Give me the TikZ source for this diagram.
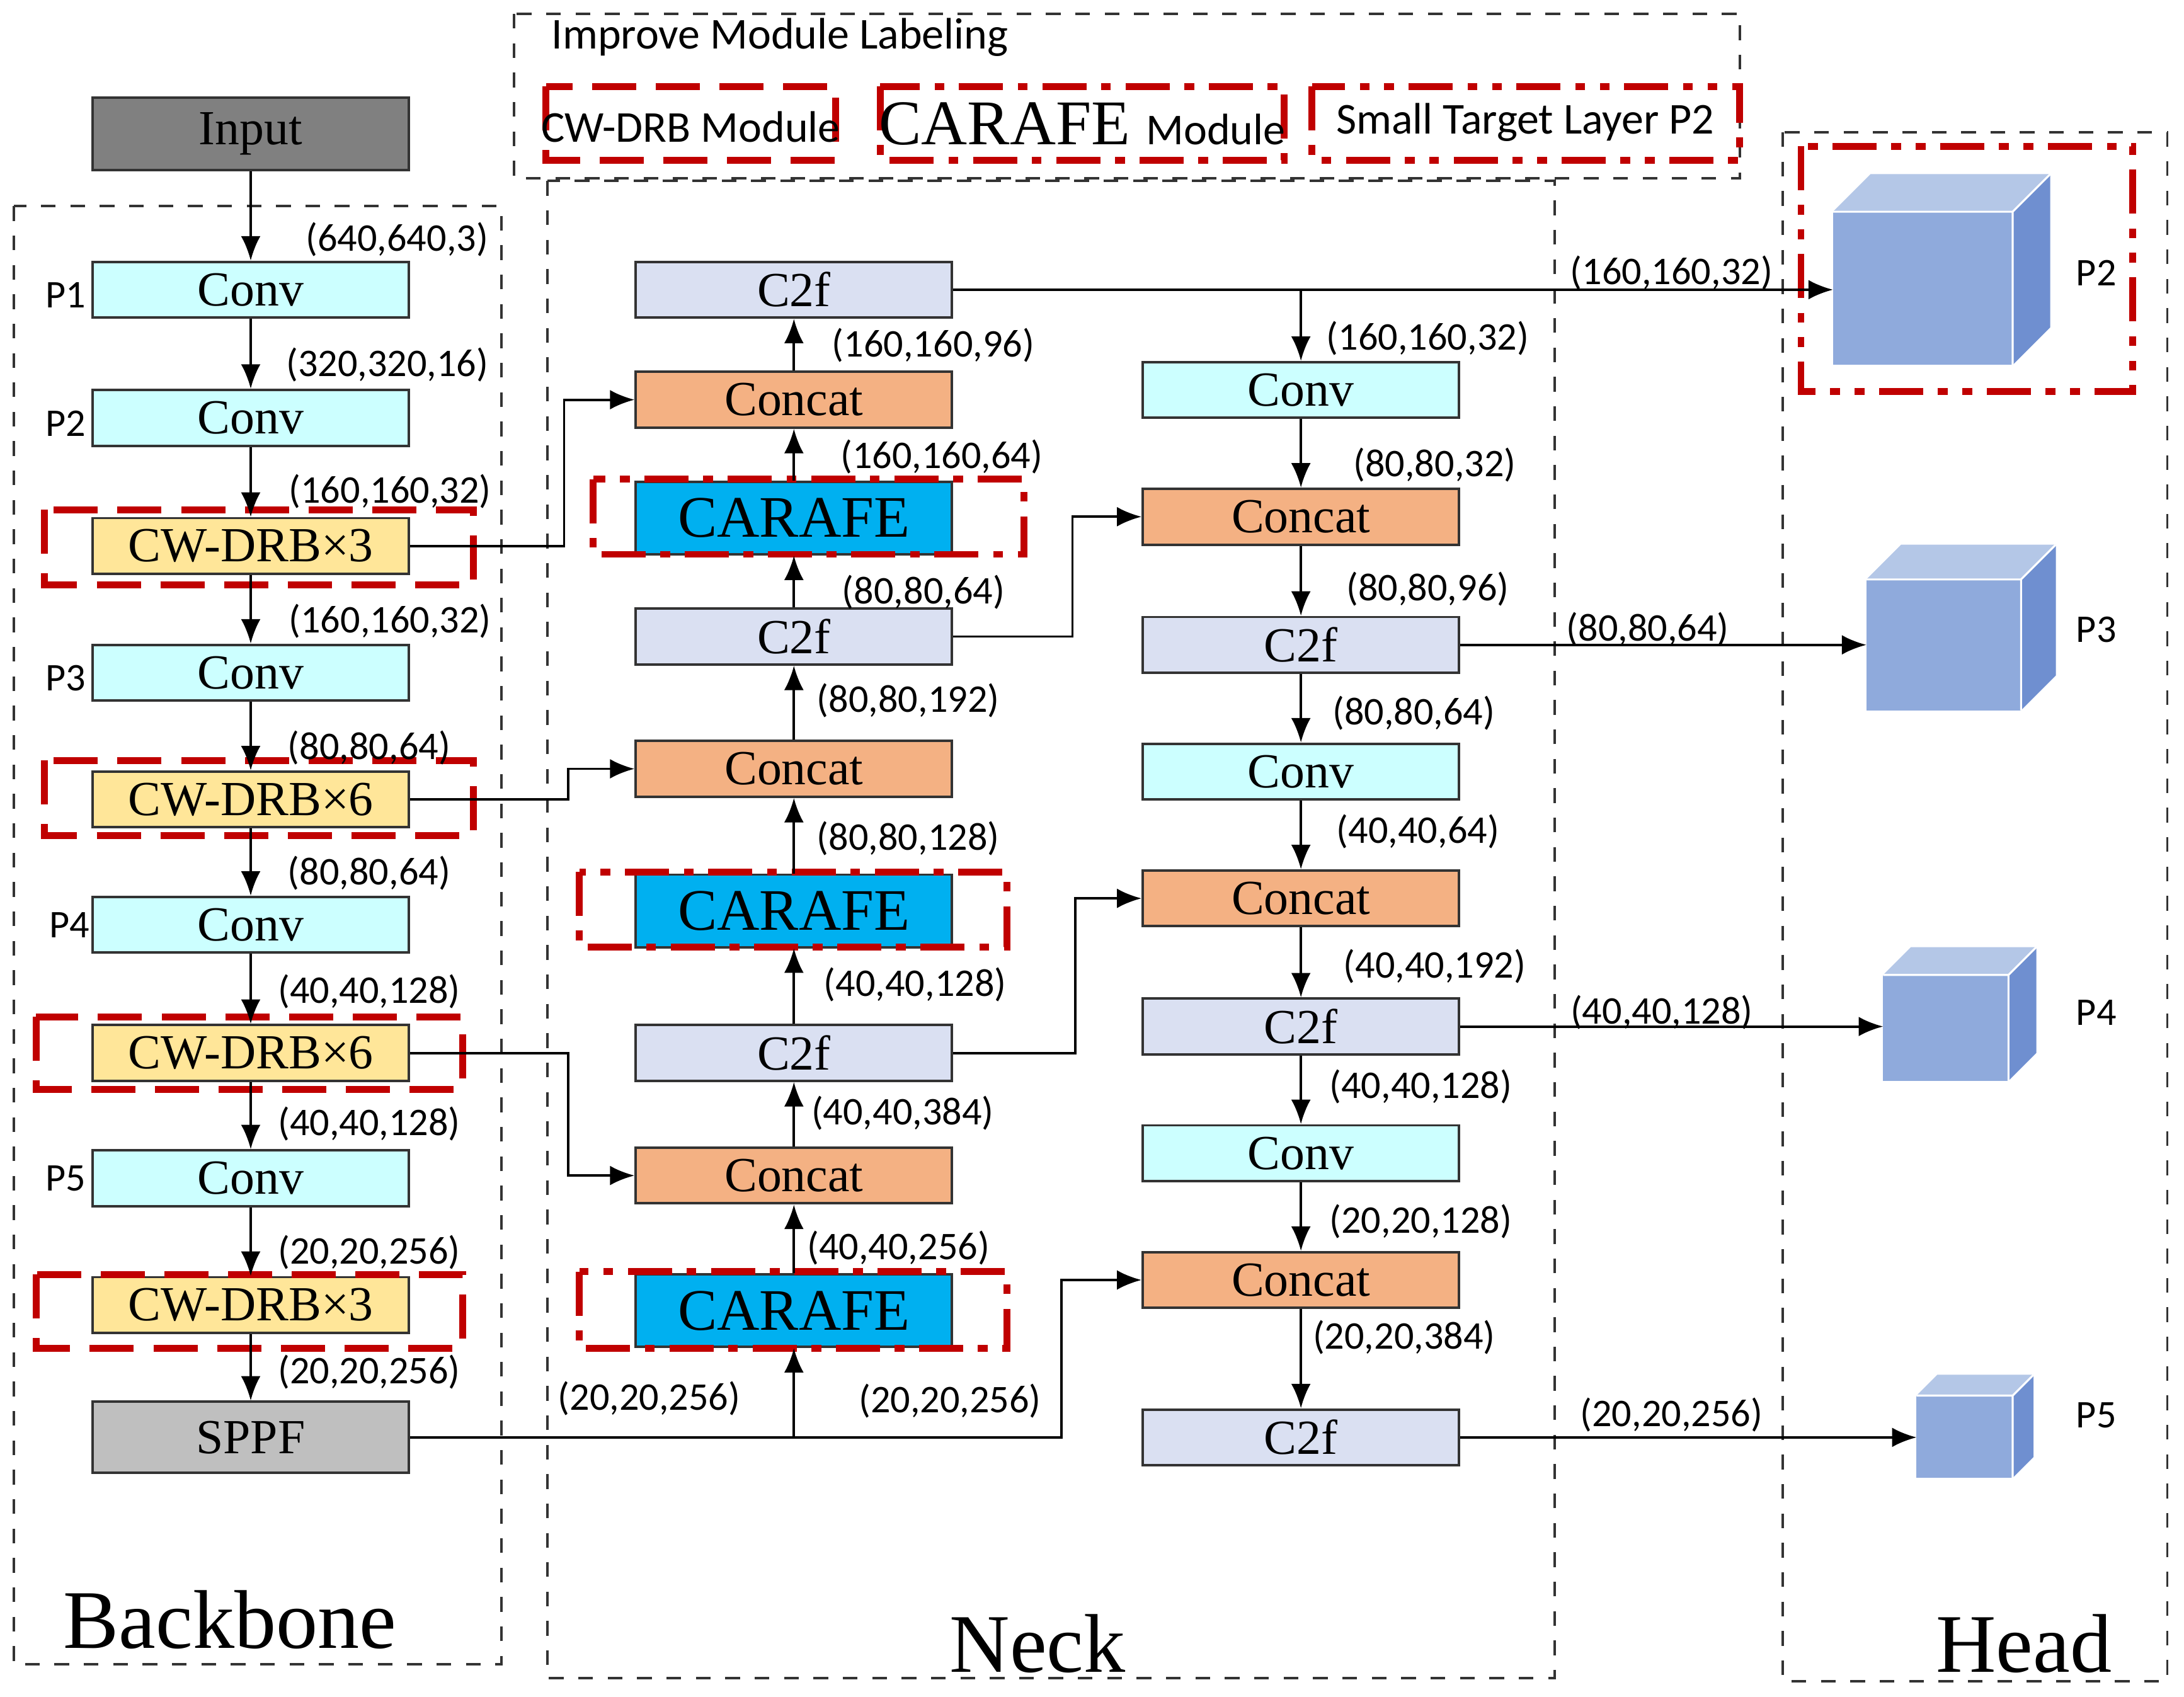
\documentclass[tikz,border=0pt]{standalone}
\usepackage{fontspec}
\setmainfont{Liberation Serif}
\newfontfamily\lab{Carlito}
\usetikzlibrary{arrows.meta}
\definecolor{redb}{HTML}{C00000}
\definecolor{cyanb}{HTML}{CCFFFF}
\definecolor{lav}{HTML}{DAE0F2}
\definecolor{orng}{HTML}{F4B183}
\definecolor{blu}{HTML}{00B0F0}
\definecolor{yel}{HTML}{FFE699}
\definecolor{cf}{HTML}{8FAADC}
\definecolor{ct}{HTML}{B4C7E7}
\definecolor{cs}{HTML}{6F8FD0}
\tikzset{
 blk/.style={draw=black!80,line width=0.5pt,minimum width=2.27cm,minimum height=0.4cm,inner sep=0pt,font=\fontsize{10}{10}\selectfont},
 conv/.style={blk,fill=cyanb},
 c2f/.style={blk,fill=lav},
 cat/.style={blk,fill=orng},
 car/.style={blk,fill=blu,minimum height=0.52cm,font=\fontsize{12}{12}\selectfont},
 cw/.style={blk,fill=yel},
 lb/.style={font=\lab\fontsize{8}{8}\selectfont,inner sep=0pt},
 grp/.style={draw=black!80,dashed,line width=0.5pt},
 rdash/.style={draw=redb,line width=1.4pt,dash pattern=on 9pt off 4pt},
 rdd/.style={draw=redb,line width=1.4pt,dash pattern=on 9pt off 3pt on 2pt off 3pt},
 rddd/.style={draw=redb,line width=1.4pt,dash pattern=on 9pt off 3pt on 2pt off 3pt on 2pt off 3pt},
 ar/.style={-{Latex[length=5pt,width=4pt]},line width=0.5pt},
 ln/.style={line width=0.5pt},
 ttl/.style={font=\fontsize{17}{17}\selectfont}
}
\begin{document}
\begin{tikzpicture}[x=0.01cm,y=-0.01cm]
\useasboundingbox (0,0) rectangle (1568,1218);
% groups
\draw[grp] (10,148) rectangle (360,1195);
\draw[grp] (393,130) rectangle (1116,1205);
\draw[grp] (1280,95) rectangle (1556,1207);
\draw[grp] (369,10) rectangle (1249,128);
% legend
\node[lb,font=\lab\fontsize{9}{9}\selectfont] at (560,27) {Improve Module Labeling};
\draw[rdash] (392,62) rectangle (600,115);
\node[lb,font=\lab\fontsize{9}{9}\selectfont] at (496,91) {CW-DRB Module};
\draw[rdd] (632,62) rectangle (922,115);
\node[inner sep=0pt] at (777,89) {\fontsize{13}{13}\selectfont CARAFE \lab\fontsize{9}{9}\selectfont Module};
\draw[rddd] (942,62) rectangle (1249,115);
\node[lb,font=\lab\fontsize{9}{9}\selectfont] at (1095,88) {Small Target Layer P2};
% backbone
\node[blk,fill=black!50,minimum height=0.52cm] (in) at (180,96) {Input};
\node[conv] (b1) at (180,208) {Conv};
\node[conv] (b2) at (180,300) {Conv};
\node[cw] (b3) at (180,392) {CW-DRB×3};
\node[conv] (b4) at (180,483) {Conv};
\node[cw] (b5) at (180,574) {CW-DRB×6};
\node[conv] (b6) at (180,664) {Conv};
\node[cw] (b7) at (180,756) {CW-DRB×6};
\node[conv] (b8) at (180,846) {Conv};
\node[cw] (b9) at (180,937) {CW-DRB×3};
\node[blk,fill=black!25,minimum height=0.51cm] (sppf) at (180,1032) {SPPF};
\draw[rdash] (32,366) rectangle (340,420);
\draw[rdash] (32,546) rectangle (340,600);
\draw[rdash] (26,730) rectangle (332,782);
\draw[rdash] (26,915) rectangle (332,968);
\foreach \a/\b in {in/b1,b1/b2,b2/b3,b3/b4,b4/b5,b5/b6,b6/b7,b7/b8,b8/b9,b9/sppf} \draw[ar] (\a) -- (\b);
\node[lb] at (47,212) {P1};
\node[lb] at (47,304) {P2};
\node[lb] at (47,487) {P3};
\node[lb] at (50,664) {P4};
\node[lb] at (47,846) {P5};
\node[lb] at (285,172) {(640,640,3)};
\node[lb] at (278,262) {(320,320,16)};
\node[lb] at (280,353) {(160,160,32)};
\node[lb] at (280,446) {(160,160,32)};
\node[lb] at (265,537) {(80,80,64)};
\node[lb] at (265,627) {(80,80,64)};
\node[lb] at (265,712) {(40,40,128)};
\node[lb] at (265,807) {(40,40,128)};
\node[lb] at (265,899) {(20,20,256)};
\node[lb] at (265,985) {(20,20,256)};
% neck col1
\node[c2f] (n1) at (570,208) {C2f};
\node[cat] (n2) at (570,287) {Concat};
\node[car] (n3) at (570,372) {CARAFE};
\node[c2f] (n4) at (570,457) {C2f};
\node[cat] (n5) at (570,552) {Concat};
\node[car] (n6) at (570,654) {CARAFE};
\node[c2f] (n7) at (570,756) {C2f};
\node[cat] (n8) at (570,844) {Concat};
\node[car] (n9) at (570,941) {CARAFE};
\draw[rdd] (426,344) rectangle (735,398);
\draw[rdd] (416,626) rectangle (723,680);
\draw[rdd] (416,913) rectangle (723,968);
\foreach \a/\b in {n9/n8,n8/n7,n7/n6,n6/n5,n5/n4,n4/n3,n3/n2,n2/n1} \draw[ar] (\a) -- (\b);
\node[lb] at (670,248) {(160,160,96)};
\node[lb] at (676,328) {(160,160,64)};
\node[lb] at (663,425) {(80,80,64)};
\node[lb] at (652,503) {(80,80,192)};
\node[lb] at (652,602) {(80,80,128)};
\node[lb] at (657,707) {(40,40,128)};
\node[lb] at (648,799) {(40,40,384)};
\node[lb] at (645,896) {(40,40,256)};
\node[lb] at (466,1004) {(20,20,256)};
\node[lb] at (682,1006) {(20,20,256)};
% neck col2
\node[conv] (m1) at (934,280) {Conv};
\node[cat] (m2) at (934,371) {Concat};
\node[c2f] (m3) at (934,463) {C2f};
\node[conv] (m4) at (934,554) {Conv};
\node[cat] (m5) at (934,645) {Concat};
\node[c2f] (m6) at (934,737) {C2f};
\node[conv] (m7) at (934,828) {Conv};
\node[cat] (m8) at (934,919) {Concat};
\node[c2f] (m9) at (934,1032) {C2f};
\foreach \a/\b in {m1/m2,m2/m3,m3/m4,m4/m5,m5/m6,m6/m7,m7/m8,m8/m9} \draw[ar] (\a) -- (\b);
\node[lb] at (1025,243) {(160,160,32)};
\node[lb] at (1030,334) {(80,80,32)};
\node[lb] at (1025,423) {(80,80,96)};
\node[lb] at (1015,512) {(80,80,64)};
\node[lb] at (1018,597) {(40,40,64)};
\node[lb] at (1030,694) {(40,40,192)};
\node[lb] at (1020,780) {(40,40,128)};
\node[lb] at (1020,877) {(20,20,128)};
\node[lb] at (1008,960) {(20,20,384)};
% cross connections
\draw[ar] (b3.east) -- (405,392) -- (405,287) -- (n2.west);
\draw[ar] (b5.east) -- (408,574) -- (408,552) -- (n5.west);
\draw[ar] (b7.east) -- (408,756) -- (408,844) -- (n8.west);
\coordinate (sj) at (570,1032);
\draw[ln] (sppf.east) -- (sj);
\draw[ar] (sj) -- (n9.south);
\draw[ar] (sj) -- (762,1032) -- (762,919) -- (m8.west);
\draw[ar] (n4.east) -- (770,457) -- (770,371) -- (m2.west);
\draw[ar] (n7.east) -- (772,756) -- (772,645) -- (m5.west);
\coordinate (bj) at (934,208);
\draw[ar] (bj) -- (m1.north);
% head cubes
\newcommand{\cube}[6]{% name,x1,y1,x2,y2,d
 \fill[cs] (#4,#3) -- (#4+#6,#3-#6) -- (#4+#6,#5-#6) -- (#4,#5) -- cycle;
 \fill[ct] (#2,#3) -- (#2+#6,#3-#6) -- (#4+#6,#3-#6) -- (#4,#3) -- cycle;
 \fill[cf] (#2,#3) rectangle (#4,#5);
 \draw[white,line width=0.4pt] (#2,#3) -- (#4,#3) -- (#4,#5) (#4,#3) -- (#4+#6,#3-#6);
 \coordinate (#1) at (#2,{(#3+#5)/2});}
\cube{h2}{1316}{152}{1445}{262}{27}
\cube{h3}{1340}{416}{1451}{510}{25}
\cube{h4}{1352}{700}{1442}{776}{20}
\cube{h5}{1376}{1002}{1445}{1061}{15}
\draw[rddd] (1293,105) rectangle (1531,281);
\node[lb] at (1505,196) {P2};
\node[lb] at (1505,452) {P3};
\node[lb] at (1505,727) {P4};
\node[lb] at (1505,1016) {P5};
\draw[ar] (n1.east) -- (1316,208);
\draw[ar] (m3.east) -- (1340,463);
\draw[ar] (m6.east) -- (1352,737);
\draw[ar] (m9.east) -- (1376,1032);
\node[lb] at (1200,196) {(160,160,32)};
\node[lb] at (1183,452) {(80,80,64)};
\node[lb] at (1193,727) {(40,40,128)};
\node[lb] at (1200,1016) {(20,20,256)};
% titles
\node[ttl] at (165,1163) {Backbone};
\node[ttl] at (745,1180) {Neck};
\node[ttl] at (1453,1180) {Head};
\end{tikzpicture}
\end{document}
